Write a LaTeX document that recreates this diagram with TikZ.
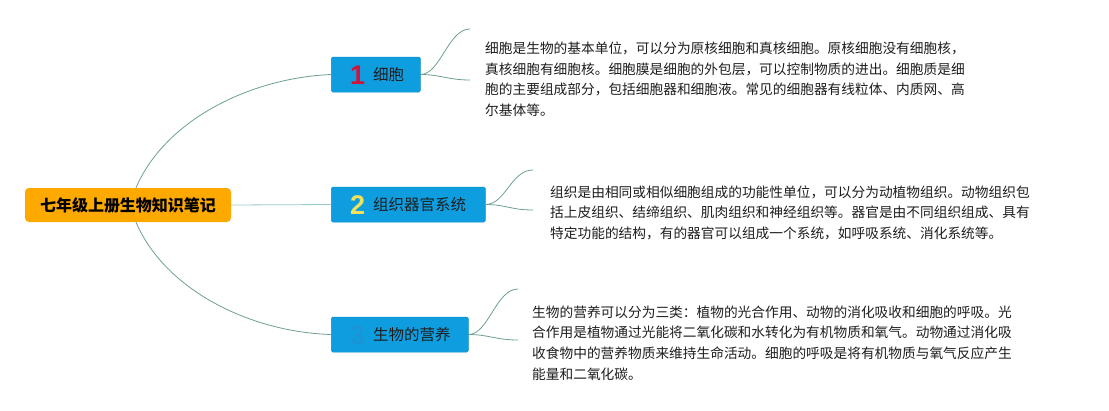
\documentclass[tikz,border=0pt]{standalone}
\usepackage{fontspec}
\setmainfont{Noto Sans CJK SC}
\newfontfamily\numfont{Liberation Sans}
\usetikzlibrary{calc}
\definecolor{rootorange}{HTML}{FDA900}
\definecolor{boxblue}{HTML}{0E9EE0}
\definecolor{boxedge}{HTML}{0B8FCB}
\definecolor{numred}{HTML}{D2143C}
\definecolor{numyellow}{HTML}{F3E15A}
\definecolor{numblue}{HTML}{1A94D6}
\definecolor{linkcol}{HTML}{6E9F96}
\definecolor{linklight}{HTML}{9CCACA}
\definecolor{txt}{HTML}{1E1E1E}
\tikzset{
  rootbox/.style={fill=rootorange, rounded corners=4pt, minimum width=206pt, minimum height=34pt, inner sep=0pt, font=\bfseries\fontsize{16pt}{18pt}\selectfont, text=black},
  topicbox/.style={fill=boxblue, draw=boxedge, line width=0.5pt, rounded corners=1.5pt, minimum height=35pt, inner sep=0pt, anchor=west},
  numst/.style={font=\numfont\bfseries\fontsize{27pt}{28pt}\selectfont, inner sep=0pt, anchor=base west},
  labelst/.style={font=\fontsize{15.5pt}{17pt}\selectfont, text=txt, inner sep=0pt, anchor=base west},
  notest/.style={font=\fontsize{13.7pt}{20.8pt}\selectfont, text=txt, inner sep=0pt, align=left, anchor=north west},
  link/.style={draw=linkcol, line width=0.8pt},
}
\begin{document}
\begin{tikzpicture}[x=1pt,y=-1pt]
\useasboundingbox (0,0) rectangle (1109,410);
\fill[white] (0,0) rectangle (1109,410);

% root
\node[rootbox] (root) at (128,205) {七年级上册生物知识笔记};

% topic boxes
\node[topicbox, minimum width=89pt] (b1) at (331,74.5) {};
\node[topicbox, minimum width=154pt] (b2) at (331,204.5) {};
\node[topicbox, minimum width=137pt] (b3) at (331,334.5) {};

\node[numst, text=numred] (n1) at ($(b1.west)+(19,10)$) {1};
\node[numst, text=numyellow] (n2) at ($(b2.west)+(19,10)$) {2};
\node[numst, text=numblue] (n3) at ($(b3.west)+(19,10)$) {3};

\node[labelst] (l1) at ($(b1.west)+(42,6)$) {细胞};
\node[labelst] (l2) at ($(b2.west)+(42,6)$) {组织器官系统};
\node[labelst] (l3) at ($(b3.west)+(42,6)$) {生物的营养};

% notes
\node[notest] (t1) at (485,41.5) {细胞是生物的基本单位，可以分为原核细胞和真核细胞。原核细胞没有细胞核，\\真核细胞有细胞核。细胞膜是细胞的外包层，可以控制物质的进出。细胞质是细\\胞的主要组成部分，包括细胞器和细胞液。常见的细胞器有线粒体、内质网、高\\尔基体等。};
\node[notest] (t2) at (550,185.2) {组织是由相同或相似细胞组成的功能性单位，可以分为动植物组织。动物组织包\\括上皮组织、结缔组织、肌肉组织和神经组织等。器官是由不同组织组成、具有\\特定功能的结构，有的器官可以组成一个系统，如呼吸系统、消化系统等。};
\node[notest] (t3) at (532,305.2) {生物的营养可以分为三类：植物的光合作用、动物的消化吸收和细胞的呼吸。光\\合作用是植物通过光能将二氧化碳和水转化为有机物质和氧气。动物通过消化吸\\收食物中的营养物质来维持生命活动。细胞的呼吸是将有机物质与氧气反应产生\\能量和二氧化碳。};

% connector end points
\coordinate (c1a) at (470,29);
\coordinate (c1b) at (470,80);
\coordinate (c2a) at (533,170);
\coordinate (c2b) at (533,210);
\coordinate (c3a) at (518,289);
\coordinate (c3b) at (518,340);
\coordinate (rtop) at ([xshift=8pt]root.north);
\coordinate (rbot) at ([xshift=8pt]root.south);

% root connectors
\draw[link] (rtop) .. controls (165,120) and (250,78) .. (b1.west);
\draw[draw=linklight, line width=0.8pt] (root.east) -- (b2.west);
\draw[link] (rbot) .. controls (165,290) and (250,332) .. (b3.west);

% topic to note connectors
\draw[link] (b1.east) .. controls ($(b1.east)+(20,0)$) and ($(c1a)+(-22,0)$) .. (c1a);
\draw[link] (b1.east) .. controls ($(b1.east)+(20,0)$) and ($(c1b)+(-22,0)$) .. (c1b);
\draw[link] (b2.east) .. controls ($(b2.east)+(20,0)$) and ($(c2a)+(-22,0)$) .. (c2a);
\draw[link] (b2.east) .. controls ($(b2.east)+(20,0)$) and ($(c2b)+(-22,0)$) .. (c2b);
\draw[link] (b3.east) .. controls ($(b3.east)+(20,0)$) and ($(c3a)+(-22,0)$) .. (c3a);
\draw[link] (b3.east) .. controls ($(b3.east)+(20,0)$) and ($(c3b)+(-22,0)$) .. (c3b);
\end{tikzpicture}
\end{document}
